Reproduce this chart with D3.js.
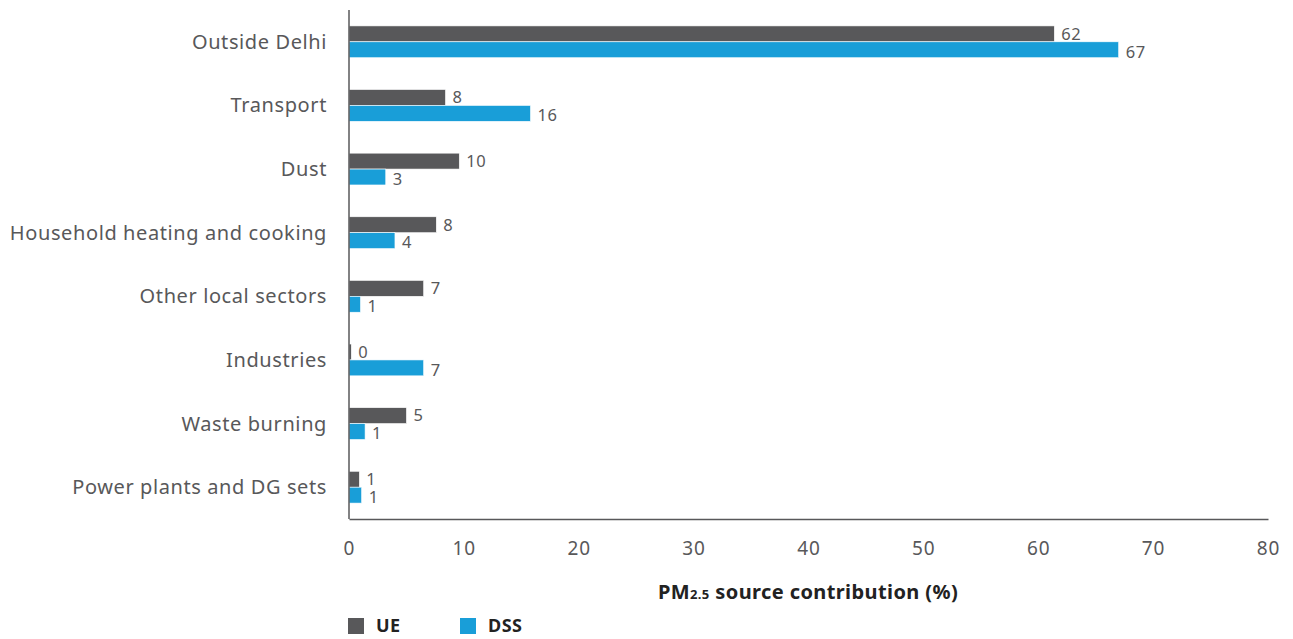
<!DOCTYPE html>
<html>
<head>
<meta charset="utf-8">
<script src="https://cdn.jsdelivr.net/npm/d3@7"></script>
<style>
  body { margin: 0; background: #fff; }
  svg text { font-family: "Noto Sans", "Open Sans", sans-serif; }
</style>
</head>
<body>
<svg id="chart" width="1293" height="639"></svg>
<script>
// categories, top to bottom
var categories = ["Outside Delhi", "Transport", "Dust", "Household heating and cooking",
  "Other local sectors", "Industries", "Waste burning", "Power plants and DG sets"];
// bar lengths (%)
var ueValues  = [61.4, 8.4, 9.6, 7.6, 6.5, 0.2, 5.0, 0.9];
var dssValues = [67.0, 15.8, 3.2, 4.0, 1.0, 6.5, 1.4, 1.1];
// printed labels
var ueLabels  = ["62", "8", "10", "8", "7", "0", "5", "1"];
var dssLabels = ["67", "16", "3", "4", "1", "7", "1", "1"];
var xTicks = [0, 10, 20, 30, 40, 50, 60, 70, 80];
var series = ["UE", "DSS"];
var colors = { UE: "#58585a", DSS: "#199ed8" };

var svg = d3.select("#chart");
var margin = {top: 10, right: 25, bottom: 120, left: 349};
var width = 1293 - margin.left - margin.right;
var height = 639 - margin.top - margin.bottom;

var g = svg.append("g")
    .attr("transform", "translate(" + margin.left + "," + margin.top + ")");

var x = d3.scaleLinear().domain([0, 80]).range([0, width]);
var y = d3.scaleBand().domain(categories).range([0, height]).paddingInner(0.5).paddingOuter(0.25);
var ySub = d3.scaleBand().domain(series).range([0, y.bandwidth()]);

var rows = categories.map(function(c, i) {
  return {cat: c, vals: [
    {key: "UE", v: ueValues[i], label: ueLabels[i]},
    {key: "DSS", v: dssValues[i], label: dssLabels[i]}
  ]};
});

var rowG = g.selectAll(".row")
  .data(rows)
  .enter().append("g")
    .attr("class", "row")
    .attr("transform", function(d) { return "translate(0," + y(d.cat) + ")"; });

rowG.selectAll("rect")
  .data(function(d) { return d.vals; })
  .enter().append("rect")
    .attr("x", 0)
    .attr("y", function(d) { return ySub(d.key); })
    .attr("width", function(d) { return x(d.v); })
    .attr("height", ySub.bandwidth())
    .attr("fill", function(d) { return colors[d.key]; })
    .attr("stroke", "#fff")
    .attr("stroke-width", 0.6);

// value labels, nudged apart a little so the pair does not collide
rowG.selectAll(".val")
  .data(function(d) { return d.vals; })
  .enter().append("text")
    .attr("class", "val")
    .attr("x", function(d) { return x(d.v) + 7; })
    .attr("y", function(d) { return ySub(d.key) + ySub.bandwidth() / 2 + (d.key === "UE" ? 0 : 2); })
    .attr("dy", "0.35em")
    .attr("fill", "#58585a")
    .style("font-size", "16.5px")
    .style("letter-spacing", "0.6px")
    .text(function(d) { return d.label; });

// category labels
g.selectAll(".cat")
  .data(categories)
  .enter().append("text")
    .attr("class", "cat")
    .attr("x", -22)
    .attr("y", function(d) { return y(d) + y.bandwidth() / 2; })
    .attr("dy", "0.35em")
    .attr("text-anchor", "end")
    .attr("fill", "#58585a")
    .style("font-size", "20px")
    .style("letter-spacing", "0.6px")
    .text(function(d) { return d; });

// axes
var xAxis = g.append("g")
    .attr("transform", "translate(0," + height + ")")
    .call(d3.axisBottom(x).tickValues(xTicks).tickSize(0).tickPadding(23));
xAxis.select(".domain").attr("stroke", "#58585a").attr("stroke-width", 1.5);
xAxis.selectAll("text")
    .attr("fill", "#58585a")
    .style("font-size", "19px")
    .style("letter-spacing", "1px")
    .style("font-family", "'Noto Sans', sans-serif");

g.append("line")
    .attr("x1", 0).attr("x2", 0)
    .attr("y1", 0).attr("y2", height)
    .attr("stroke", "#58585a")
    .attr("stroke-width", 1.5);

// axis title
var title = svg.append("text")
    .attr("x", 808)
    .attr("y", 599)
    .attr("text-anchor", "middle")
    .attr("fill", "#222")
    .style("font-size", "20px")
    .style("letter-spacing", "0.4px")
    .style("font-weight", "bold");
title.append("tspan").text("PM");
title.append("tspan").style("font-size", "13px").text("2.5");
title.append("tspan").text(" source contribution (%)");

// legend
var legend = svg.append("g")
    .attr("transform", "translate(348,618)");
var items = legend.selectAll("g")
  .data(series)
  .enter().append("g")
    .attr("transform", function(d, i) { return "translate(" + (i * 112) + ",0)"; });
items.append("rect")
    .attr("width", 16).attr("height", 16)
    .attr("fill", function(d) { return colors[d]; });
items.append("text")
    .attr("x", 28)
    .attr("y", 8)
    .attr("dy", "0.36em")
    .attr("fill", "#222")
    .style("font-size", "18px")
    .style("font-weight", "bold")
    .style("letter-spacing", "0.5px")
    .text(function(d) { return d; });
</script>
</body>
</html>
